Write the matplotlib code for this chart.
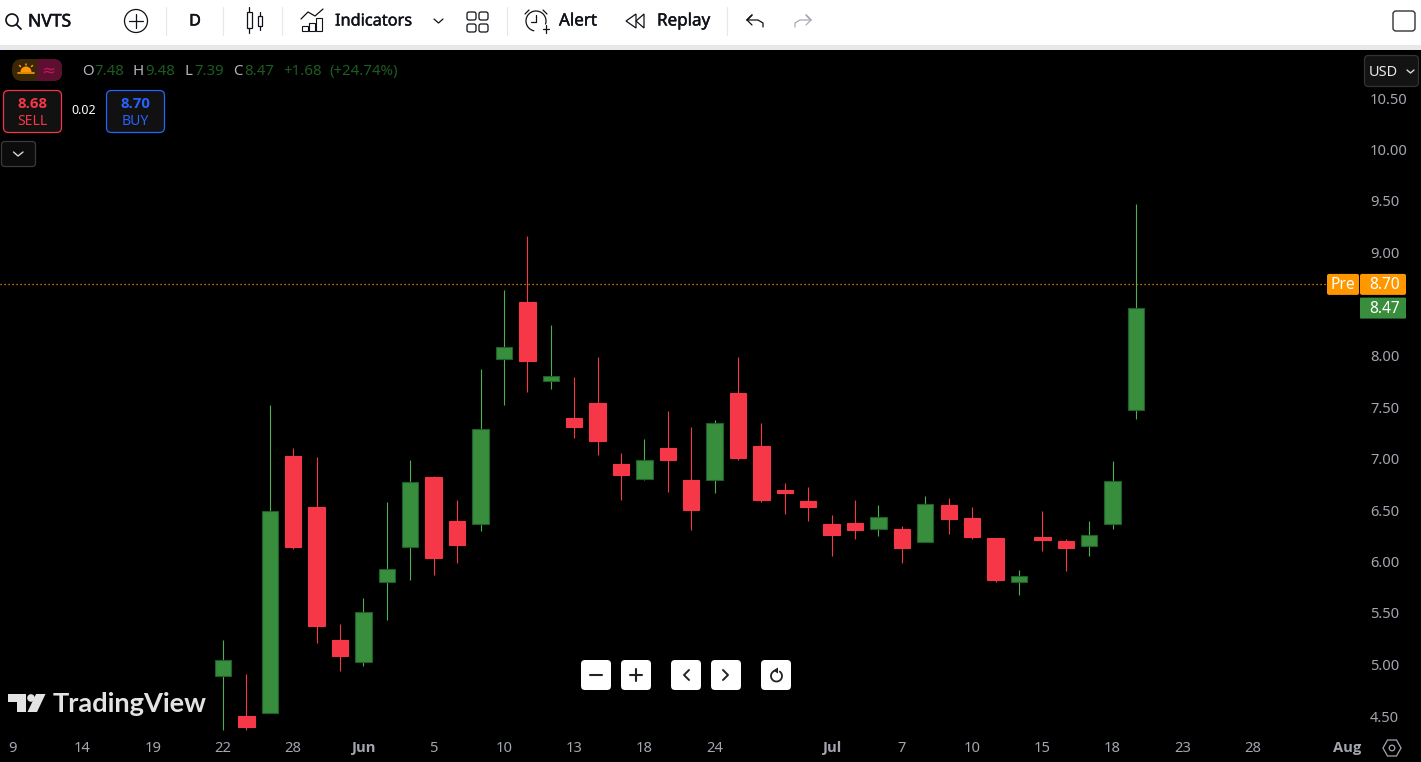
#!/usr/bin/env python3
import matplotlib
matplotlib.use('Agg')
import matplotlib.pyplot as plt
import matplotlib.patheffects as pe
from matplotlib.patches import Rectangle, FancyBboxPatch, Circle, Polygon, Arc, Wedge
from matplotlib.transforms import ScaledTranslation

# daily candles
opens = [4.90, 4.51, 4.54, 7.03, 6.54, 5.25, 5.03, 5.81, 6.15, 6.83,
         6.40, 6.37, 7.98, 8.53, 7.76, 7.40, 7.55, 6.96, 6.81, 7.11,
         6.80, 6.80, 7.65, 7.13, 6.70, 6.60, 6.37, 6.38, 6.33, 6.33,
         6.20, 6.56, 6.43, 6.24, 5.81, 6.25, 6.21, 6.16, 6.37, 7.48]
highs = [5.25, 4.92, 7.53, 7.11, 7.02, 5.40, 5.66, 6.59, 7.00, 6.84,
         6.61, 7.88, 8.65, 9.17, 8.31, 7.80, 8.00, 7.06, 7.20, 7.47,
         7.32, 7.38, 8.00, 7.35, 6.77, 6.73, 6.46, 6.61, 6.56, 6.35,
         6.65, 6.63, 6.54, 6.24, 5.93, 6.50, 6.23, 6.40, 6.99, 9.48]
lows = [4.37, 4.37, 4.54, 6.13, 5.22, 4.95, 5.00, 5.44, 5.83, 5.88,
        6.00, 6.31, 7.53, 7.66, 7.68, 7.21, 7.04, 6.61, 6.80, 6.68,
        6.32, 6.67, 7.00, 6.59, 6.47, 6.40, 6.06, 6.23, 6.26, 6.00,
        6.20, 6.28, 6.23, 5.81, 5.68, 6.11, 5.92, 6.06, 6.33, 7.39]
closes = [5.05, 4.40, 6.50, 6.15, 5.38, 5.09, 5.52, 5.94, 6.78, 6.04,
          6.17, 7.30, 8.09, 7.96, 7.81, 7.32, 7.18, 6.85, 7.00, 7.00,
          6.51, 7.35, 7.01, 6.61, 6.67, 6.54, 6.27, 6.32, 6.44, 6.14,
          6.57, 6.42, 6.25, 5.83, 5.87, 6.22, 6.14, 6.27, 6.79, 8.47]

# 8.50 sits under the price tags in the reference, so it is not labelled
price_ticks = [4.5, 5.0, 5.5, 6.0, 6.5, 7.0, 7.5, 8.0, 9.0, 9.5, 10.0, 10.5]
date_ticks = [-9, -6, -3, 0, 3, 6, 9, 12, 15, 18, 21, 26, 29, 32, 35, 38, 41, 44, 48]
date_labels = ['9', '14', '19', '22', '28', 'Jun', '5', '10', '13', '18', '24',
               'Jul', '7', '10', '15', '18', '23', '28', 'Aug']
month_labels = ['Jun', 'Jul', 'Aug']
pre_price = 8.70
last_price = 8.47

W, H = 1421, 762
GREEN = '#388e3c'
GREEN_EDGE = '#1f5f29'
GREEN_WICK = '#4caf50'
RED = '#f63748'
ORANGE = '#ff9800'
TICK = '#a3a6af'
DARK = '#0f1218'
BOLD = ['Open Sans', 'DejaVu Sans']

plt.rcParams['font.family'] = ['Noto Sans', 'DejaVu Sans']

fig = plt.figure(figsize=(W / 100, H / 100), dpi=100, facecolor='black')

# layout of the price pane, in pixels
left, right, top, bottom = 0, 1358, 50, 735
x0, step = 223, 23.41
y10, per_unit = 150.5, 103


def price_y(p):
    return y10 + (10 - p) * per_unit


ax = fig.add_axes([left / W, (H - bottom) / H, (right - left) / W, (bottom - top) / H])
ax.set_facecolor('black')
ax.set_xlim((left - x0) / step, (right - x0) / step)
ax.set_ylim(10 - (bottom - y10) / per_unit, 10 + (y10 - top) / per_unit)
for s in ax.spines.values():
    s.set_visible(False)

for i in range(len(opens)):
    up = closes[i] >= opens[i]
    ax.vlines(i, lows[i], highs[i], color=GREEN_WICK if up else RED, lw=0.8, zorder=2)
    ax.bar(i, abs(closes[i] - opens[i]), bottom=min(opens[i], closes[i]), width=0.70,
           color=GREEN if up else RED, edgecolor=GREEN_EDGE if up else RED, linewidth=0.8, zorder=3)

ax.axhline(pre_price, xmax=1327 / right, color=ORANGE, lw=0.9, ls=(0, (1, 2.2)), zorder=4)

ax.yaxis.tick_right()
ax.set_yticks(price_ticks)
ax.set_yticklabels(['%.2f' % p for p in price_ticks])
ax.set_xticks(date_ticks)
ax.set_xticklabels(date_labels)
ax.tick_params(axis='y', length=0, pad=8.6, labelcolor=TICK, labelsize=10.6)
ax.tick_params(axis='x', length=0, pad=4.5, labelcolor=TICK, labelsize=10.6)
for lab in ax.get_yticklabels():
    lab.set_transform(lab.get_transform() + ScaledTranslation(0, 0.01, fig.dpi_scale_trans))
for lab in ax.get_xticklabels():
    if lab.get_text() in month_labels:
        lab.set_family(BOLD)
        lab.set_fontweight('bold')

# everything around the chart is drawn in pixel coordinates
ui = fig.add_axes([0, 0, 1, 1], facecolor='none')
ui.set_xlim(0, W)
ui.set_ylim(H, 0)
ui.axis('off')


def txt(x, y, s, px=14, color='white', ha='left', thick=0, **kw):
    t = ui.text(x, y + 1.5, s, fontsize=px * 0.72, color=color, ha=ha, va='center', **kw)
    if thick:
        t.set_path_effects([pe.withStroke(linewidth=thick, foreground=color)])
    return t


def rbox(x1, y1, x2, y2, r=3, fc='white', ec='none', lw=1, z=1):
    ui.add_patch(FancyBboxPatch((x1 + r, y1 + r), x2 - x1 - 2 * r, y2 - y1 - 2 * r,
                                boxstyle='round,pad=%f,rounding_size=%f' % (r, r),
                                fc=fc, ec=ec, lw=lw, zorder=z))


def line(xs, ys, color=DARK, lw=1.0, z=5):
    ui.plot(xs, ys, color=color, lw=lw, zorder=z, solid_capstyle='round')


# toolbar
ui.add_patch(Rectangle((0, 0), W, 45, fc='white', ec='none'))
ui.add_patch(Rectangle((0, 45), W, 5, fc='#e8e8ea', ec='none'))
for sx in [166, 223, 282, 507, 727]:
    line([sx, sx], [7, 35], color='#e6e7ea', lw=0.8)

ui.add_patch(Circle((12, 20), 6, fc='none', ec=DARK, lw=1.2, zorder=5))
line([16.5, 21], [24.5, 29], lw=1.3)
txt(28, 20, 'NVTS', 17.5, DARK, thick=0.4)
ui.add_patch(Circle((136, 21), 11.5, fc='none', ec=DARK, lw=0.9, zorder=5))
line([129, 143], [21, 21], lw=0.9)
line([136, 136], [14, 28], lw=0.9)
txt(195, 20, 'D', 16, DARK, ha='center', thick=0.4)

ui.add_patch(Rectangle((246.5, 12), 5, 16, fc='none', ec=DARK, lw=0.9, zorder=5))
line([249, 249], [7, 12], lw=0.9)
line([249, 249], [28, 33], lw=0.9)
ui.add_patch(Rectangle((257.5, 16), 4.5, 10, fc='none', ec=DARK, lw=0.9, zorder=5))
line([259.7, 259.7], [12, 16], lw=0.9)
line([259.7, 259.7], [26, 30], lw=0.9)

line([301, 308, 315, 323], [19, 12, 16, 9], lw=0.9)
for bx, by in [(302, 26), (309, 23), (316, 18)]:
    ui.add_patch(Rectangle((bx, by), 6, 31 - by, fc='none', ec=DARK, lw=0.8, zorder=5))
txt(335, 20, 'Indicators', 16.3, DARK, thick=0.3)
line([434, 438.5, 443], [19, 23, 19], lw=0.9)
for gx in [467, 479]:
    for gy in [12, 24]:
        rbox(gx, gy, gx + 9, gy + 8, r=2, fc='none', ec=DARK, lw=0.9, z=5)

ui.add_patch(Arc((536, 21), 20, 20, theta1=100, theta2=20, ec=DARK, lw=0.9, zorder=5))
line([536, 536, 531], [15, 22, 22], lw=0.9)
line([525, 529], [14, 10], lw=0.9)
line([543, 547], [10, 14], lw=0.9)
line([543, 549], [29, 29], lw=0.9)
line([546, 546], [25, 33], lw=0.9)
txt(559, 20, 'Alert', 17, DARK, thick=0.3)
ui.add_patch(Polygon([[636, 14], [626, 21], [636, 28]], closed=True, fc='none', ec=DARK, lw=0.9, zorder=5))
ui.add_patch(Polygon([[644, 14], [636, 21], [644, 28]], closed=True, fc='none', ec=DARK, lw=0.9, zorder=5))
txt(657, 20, 'Replay', 17, DARK, thick=0.3)
line([747, 752, 747, 752], [20, 15, 20, 25], lw=0.9)
line([747, 758, 763, 763], [20, 20, 23, 27], lw=0.9)
line([811, 806, 811, 806], [20, 15, 20, 25], color='#a8abb3', lw=0.9)
line([811, 800, 795, 795], [20, 20, 23, 27], color='#a8abb3', lw=0.9)
rbox(1393, 11, 1415, 31, r=3, fc='white', ec='#333333', lw=1.0, z=5)

# legend row
rbox(12, 59, 62, 81, r=10, fc='#3a2708', z=2)
ui.add_patch(FancyBboxPatch((40, 61), 20, 18, boxstyle='round,pad=2,rounding_size=8',
                            fc='#5c0f2e', ec='none', zorder=2))
ui.add_patch(Rectangle((37, 59), 8, 22, fc='#5c0f2e', ec='none', zorder=3))
ui.add_patch(Wedge((26, 72), 5.5, 180, 360, fc=ORANGE, ec='none', zorder=4))
line([18, 34], [72.5, 72.5], color=ORANGE, lw=1.2)
line([26, 26], [63.5, 65], color=ORANGE, lw=1.1)
line([19.5, 20.5], [65.5, 66.5], color=ORANGE, lw=1.1)
line([32.5, 31.5], [65.5, 66.5], color=ORANGE, lw=1.1)
txt(48, 69, '≈', 17, '#c2185b', ha='center', family=['DejaVu Sans'])

val_green = '#1d5c22'
lab_grey = '#b2b5be'
for lx, lab, vx, val in [(82, 'O', 94, '7.48'), (133, 'H', 145, '9.48'),
                         (184, 'L', 194, '7.39'), (233, 'C', 244, '8.47')]:
    txt(lx, 70, lab, 15, lab_grey)
    txt(vx, 70, val, 15, val_green)
txt(283, 70, '+1.68', 15, val_green)
txt(329, 70, '(+24.74%)', 15, val_green)

rbox(3.5, 90.5, 61.5, 132.5, r=5, fc='#111111', ec='#f23645', lw=0.9, z=2)
txt(32.5, 102, '8.68', 15, '#f63748', ha='center', family=BOLD, weight='bold')
txt(32.5, 120, 'SELL', 14, '#f23645', ha='center')
txt(84, 109.5, '0.02', 12.5, 'white', ha='center')
rbox(106.5, 90.5, 164.5, 132.5, r=5, fc='#111111', ec='#2962ff', lw=0.9, z=2)
txt(135.5, 102, '8.70', 15, '#2962ff', ha='center', family=BOLD, weight='bold')
txt(135.5, 120, 'BUY', 14, '#2962ff', ha='center')
rbox(1.5, 141.5, 35.5, 166.5, r=3, fc='#0c0c0c', ec='#3a3a3a', lw=0.9, z=2)
line([13.5, 18, 23], [152, 156, 152], color='#d8d8d8', lw=1.0)

# right scale tags
rbox(1364.5, 55.5, 1418.5, 86.5, r=4, fc='#131313', ec='#333333', lw=0.9, z=2)
txt(1369, 70.5, 'USD', 14.5, '#e8e8e8')
line([1407, 1410.5, 1414], [70, 73, 70], color='#d8d8d8', lw=1.0)

ypre = price_y(pre_price)
ylast = price_y(last_price)
rbox(1327, ypre - 10.5, 1359, ypre + 10.5, r=2, fc=ORANGE, z=3)
rbox(1360, ypre - 10.5, 1406, ypre + 10.5, r=2, fc=ORANGE, z=3)
txt(1343, ypre - 1, 'Pre', 15.5, 'white', ha='center', zorder=6)
txt(1385, ypre - 1, '%.2f' % pre_price, 15.5, 'white', ha='center', zorder=6)
rbox(1360, ylast - 10.5, 1406, ylast + 10.5, r=1, fc=GREEN, z=3)
txt(1385, ylast - 1, '%.2f' % last_price, 15.5, 'white', ha='center', zorder=6)

# watermark
wm = '#e3e3e3'
ui.add_patch(Polygon([[8, 694], [26, 694], [26, 712], [17, 712], [17, 702], [8, 702]],
                     closed=True, fc=wm, ec='none', zorder=6))
ui.add_patch(Circle((31, 698), 3.8, fc=wm, ec='none', zorder=6))
ui.add_patch(Polygon([[36, 694], [45.5, 694], [37, 712], [27.5, 712]], closed=True, fc=wm, ec='none', zorder=6))
txt(53, 703, 'TradingView', 27.2, wm, family=['Lato', 'Noto Sans'], weight='bold', zorder=6)

# navigation buttons
for bx in [581, 621, 671, 711, 761]:
    rbox(bx, 660, bx + 30, 690, r=4, fc='white', z=6)
line([590, 602], [675, 675], color='#222222', lw=1.5, z=7)
line([630, 642], [675, 675], color='#222222', lw=1.5, z=7)
line([636, 636], [669, 681], color='#222222', lw=1.5, z=7)
line([689, 684, 689], [670, 675, 680], color='#222222', lw=1.4, z=7)
line([723, 728, 723], [670, 675, 680], color='#222222', lw=1.4, z=7)
ui.add_patch(Arc((776.5, 676), 11, 11, theta1=300, theta2=250, ec='#222222', lw=1.3, zorder=7))
ui.add_patch(Polygon([[773, 670.5], [778, 667.5], [778, 673.5]], closed=True, fc='#222222', ec='none', zorder=7))

# settings hexagon bottom right
ui.add_patch(Polygon([[1383, 748], [1387.5, 740], [1396.5, 740], [1401, 748], [1396.5, 756], [1387.5, 756]],
                     closed=True, fc='none', ec=TICK, lw=0.9, zorder=5))
ui.add_patch(Circle((1392, 748), 2.8, fc='none', ec=TICK, lw=0.9, zorder=5))

fig.savefig('out.png', dpi=100, facecolor='black')
